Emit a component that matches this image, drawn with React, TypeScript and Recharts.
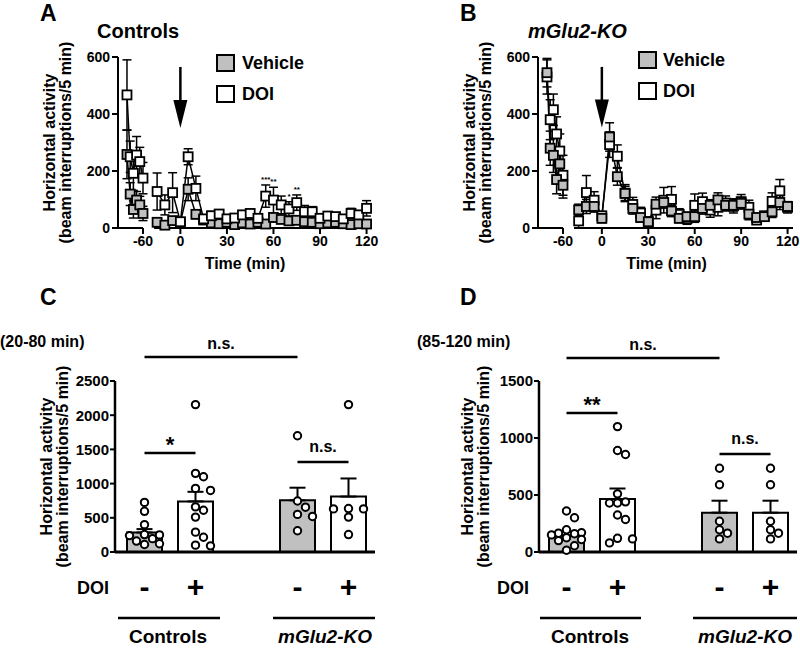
import React from 'react';
import {
  Bar,
  Cell,
  ComposedChart,
  ErrorBar,
  Line,
  ReferenceDot,
  ReferenceLine,
  Scatter,
  XAxis,
  YAxis,
} from 'recharts';

const FONT = '"Liberation Sans", Arial, Helvetica, sans-serif';
const GRAY = '#c0c0c0';

// ---- time course (A, B) ----
const habTimes = [-85, -80, -75, -70, -65, -60];
const postTimes = [-15, -10, -5, 0, 5, 10, 15, 20, 25, 30, 35, 40, 45, 50, 55, 60, 65, 70, 75, 80, 85, 90, 95, 100, 105, 110, 115, 120];
const timeTicks = [0, 30, 60, 90, 120];
const activityTicks = [0, 200, 400, 600];

// A: Controls
const ctrlVehHab = [258, 119, 65, 98, 81, 51];
const ctrlVehHabSem = [85, 40, 30, 30, 30, 25];
const ctrlDoiHab = [467, 250, 192, 256, 233, 175];
const ctrlDoiHabSem = [123, 55, 60, 65, 50, 55];
const ctrlVehPost = [20, 10, 26, 20, 136, 48, 28, 18, 15, 20, 12, 18, 14, 20, 14, 37, 30, 25, 27, 22, 20, 15, 18, 20, 15, 12, 15, 14];
const ctrlVehPostSem = [8, 6, 10, 10, 40, 15, 10, 8, 6, 8, 6, 8, 6, 8, 6, 15, 12, 10, 12, 10, 8, 6, 8, 8, 6, 6, 6, 6];
const ctrlDoiPost = [128, 81, 124, 22, 250, 139, 32, 43, 49, 32, 35, 46, 51, 34, 112, 98, 81, 67, 89, 57, 57, 34, 42, 40, 32, 51, 46, 69];
const ctrlDoiPostSem = [65, 35, 70, 12, 28, 43, 12, 15, 15, 12, 12, 15, 15, 12, 39, 45, 31, 25, 27, 22, 18, 12, 15, 12, 12, 18, 15, 27];
const sigTimes = [55, 60, 70, 75];
const sigMarks = ['***', '**', '*', '**'];

// B: mGlu2-KO
const koVehHab = [545, 280, 255, 170, 225, 150];
const koVehHabSem = [50, 60, 60, 50, 50, 45];
const koDoiHab = [530, 380, 415, 330, 270, 185];
const koDoiHabSem = [60, 70, 55, 60, 60, 70];
const koVehPost = [61, 73, 73, 31, 318, 178, 119, 66, 34, 19, 81, 87, 57, 31, 37, 37, 66, 77, 96, 77, 77, 84, 46, 34, 37, 54, 87, 73];
const koVehPostSem = [20, 25, 20, 15, 50, 30, 25, 20, 15, 10, 25, 20, 20, 15, 15, 20, 20, 20, 25, 20, 20, 20, 20, 15, 15, 20, 25, 15];
const koDoiPost = [22, 122, 95, 40, 291, 250, 120, 80, 50, 20, 60, 95, 98, 45, 30, 77, 90, 60, 70, 85, 75, 90, 70, 25, 40, 91, 128, 70];
const koDoiPostSem = [25, 60, 30, 15, 45, 40, 30, 25, 20, 10, 30, 45, 45, 20, 20, 40, 30, 25, 30, 25, 25, 25, 25, 15, 15, 30, 40, 20];

// ---- bar panels (C, D) ----
const barKeys = ['ctrl-', 'ctrl+', 'gap', 'ko-', 'ko+'];
const doiSigns = ['-', '+', '', '-', '+'];
const barFills = [GRAY, '#fff', 'none', GRAY, '#fff'];

// C: 20-80 min
const cMeans = [285, 740, null, 755, 810];
const cSems = [50, 140, null, 185, 265];
const cCtrlVeh = [725, 595, 400, 255, 250, 240, 195, 160, 120, 110];
const cCtrlDoi = [2155, 1150, 1100, 930, 900, 660, 610, 510, 290, 215, 100, 90];
const cKoVeh = [1700, 745, 655, 550, 520, 310];
const cKoDoi = [2155, 635, 630, 630, 510, 255];
const cTicks = [0, 500, 1000, 1500, 2000, 2500];

// D: 85-120 min
const dMeans = [145, 465, null, 345, 345];
const dSems = [35, 92, null, 105, 105];
const dCtrlVeh = [360, 300, 195, 170, 165, 160, 150, 125, 110, 100, 55, 15];
const dCtrlDoi = [1100, 890, 855, 510, 440, 430, 430, 325, 285, 120, 115, 80];
const dKoVeh = [735, 590, 270, 195, 165, 115];
const dKoDoi = [735, 590, 270, 195, 165, 115];
const dTicks = [0, 500, 1000, 1500];

const series = (times: number[], vals: number[], sems: number[]) =>
  times.map((t, i) => ({ t, v: vals[i], e: sems[i] }));

const axisLine = { stroke: '#000', strokeWidth: 2 };
const tickStyle = { fill: '#000', fontSize: 14, fontWeight: 'bold' };

const squareDot = (fill: string) => (p: any) => (
  <rect
    key={`sq-${p.index}`}
    x={p.cx - 4.5}
    y={p.cy - 4.5}
    width={9}
    height={9}
    fill={fill}
    stroke="#000"
    strokeWidth={1.8}
  />
);

function trace(id: string, data: any[], fill: string) {
  return (
    <Line
      key={id}
      name={id}
      data={data}
      dataKey="v"
      type="linear"
      stroke="#000"
      strokeWidth={1.5}
      dot={squareDot(fill)}
      activeDot={false}
      isAnimationActive={false}
    >
      <ErrorBar dataKey="e" width={4.5} stroke="#000" strokeWidth={1.5} direction="y" />
    </Line>
  );
}

function YTitle({ viewBox, o1, o2 }: any) {
  const ax = viewBox.x + viewBox.width;
  const cy = viewBox.y + viewBox.height / 2;
  return (
    <g fontSize={16} fontWeight="bold" fill="#000">
      <text transform={`translate(${ax - o1},${cy}) rotate(-90)`} textAnchor="middle">
        Horizontal activity
      </text>
      <text transform={`translate(${ax - o2},${cy}) rotate(-90)`} textAnchor="middle">
        (beam interruptions/5 min)
      </text>
    </g>
  );
}

function XTitle({ viewBox, text, dx }: any) {
  return (
    <text
      x={viewBox.x + viewBox.width / 2 + dx}
      y={viewBox.y + 41}
      textAnchor="middle"
      fontSize={16}
      fontWeight="bold"
      fill="#000"
    >
      {text}
    </text>
  );
}

const ArrowHead = (p: any) => (
  <path d={`M${p.cx},${p.cy} L${p.cx - 7},${p.cy - 28} L${p.cx + 7},${p.cy - 28} Z`} fill="#000" />
);

const SigMark = (p: any) => (
  <text x={p.cx} y={p.cy - 3} textAnchor="middle" fontSize={8} fontWeight="bold" fill="#000">
    {p.payload.s}
  </text>
);

function HabChart({ left, veh, vehSem, doi, doiSem, vehOnTop }: any) {
  const v = trace('Vehicle', series(habTimes, veh, vehSem), GRAY);
  const d = trace('DOI', series(habTimes, doi, doiSem), '#fff');
  return (
    <div style={{ position: 'absolute', left, top: 40 }}>
      <ComposedChart width={170} height={233} margin={{ top: 17, right: 27, bottom: 0, left: 0 }}>
        <XAxis
          type="number"
          dataKey="t"
          domain={[-99, -60]}
          ticks={[-60]}
          interval={0}
          height={45}
          axisLine={axisLine}
          tickLine={axisLine}
          tickSize={6}
          tick={tickStyle}
        />
        <YAxis
          type="number"
          domain={[0, 600]}
          ticks={activityTicks}
          width={118}
          axisLine={axisLine}
          tickLine={axisLine}
          tickSize={6}
          tick={tickStyle}
          label={<YTitle o1={63} o2={47} />}
        />
        {vehOnTop ? [d, v] : [v, d]}
      </ComposedChart>
    </div>
  );
}

function PostChart({ left, width, domain, veh, vehSem, doi, doiSem, vehOnTop, sig, titleDx }: any) {
  const v = trace('Vehicle', series(postTimes, veh, vehSem), GRAY);
  const d = trace('DOI', series(postTimes, doi, doiSem), '#fff');
  return (
    <div style={{ position: 'absolute', left, top: 40 }}>
      <ComposedChart width={width + 16} height={233} margin={{ top: 17, right: 20, bottom: 0, left: 4 }}>
        <XAxis
          type="number"
          dataKey="t"
          domain={domain}
          ticks={timeTicks}
          interval={0}
          height={45}
          axisLine={axisLine}
          tickLine={axisLine}
          tickSize={6}
          tick={tickStyle}
          label={<XTitle text="Time (min)" dx={titleDx} />}
        />
        <YAxis hide type="number" domain={[0, 600]} />
        <ReferenceLine
          segment={[
            { x: 0, y: 565 },
            { x: 0, y: 440 },
          ]}
          stroke="#000"
          strokeWidth={2.5}
        />
        <ReferenceDot x={0} y={351} r={1} shape={ArrowHead} />
        {vehOnTop ? [d, v] : [v, d]}
        {sig ? (
          <Scatter data={sig} dataKey="y" shape={SigMark} isAnimationActive={false} />
        ) : null}
      </ComposedChart>
    </div>
  );
}

// compact beeswarm: dots stay inside the bar, spreading sideways when they collide
function swarm(groups: number[][], yMax: number, band: number) {
  const pyPerUnit = 171 / yMax;
  const cands = [0, 8, -8, 15, -15, 4, -4, 11, -11];
  const out: { x: number; y: number }[] = [];
  groups.forEach((vals, gi) => {
    const placed: { x: number; y: number }[] = [];
    [...vals]
      .sort((a, b) => b - a)
      .forEach((val) => {
        const py = val * pyPerUnit;
        let best = 0;
        let bestD = -1;
        for (const off of cands) {
          const dmin = placed.reduce((m, p) => Math.min(m, Math.hypot(p.x - off, p.y - py)), Infinity);
          if (dmin >= 8.5) {
            best = off;
            break;
          }
          if (dmin > bestD) {
            bestD = dmin;
            best = off;
          }
        }
        placed.push({ x: best, y: py });
        out.push({ x: gi + 1 + best / band, y: val });
      });
  });
  return out;
}

const DoiTick = ({ x, y, payload }: any) => (
  <text x={x} y={y + 45} textAnchor="middle" fontSize={30} fontWeight="bold" fill="#000">
    {doiSigns[barKeys.indexOf(payload.value)]}
  </text>
);

function BracketText({ viewBox, text, size, gap }: any) {
  return (
    <text
      x={viewBox.x + viewBox.width / 2}
      y={viewBox.y - gap}
      textAnchor="middle"
      fontSize={size}
      fontWeight="bold"
      fill="#000"
    >
      {text}
    </text>
  );
}

function BarPanel({ left, yWidth, right, pad, means, sems, dots, yMax, yTicks, brackets, o1, o2 }: any) {
  const rows = barKeys.map((k, i) => ({
    k,
    m: means[i],
    e: sems[i] == null ? null : [0, sems[i]],
  }));
  const band = (400 - yWidth - right - pad.left - pad.right) / 5;
  const pts = swarm(dots, yMax, band);
  return (
    <div style={{ position: 'absolute', left, top: 300 }}>
      <ComposedChart width={400} height={316} data={rows} margin={{ top: 81, right, bottom: 0, left: 0 }}>
        <XAxis
          dataKey="k"
          type="category"
          height={64}
          padding={pad}
          interval={0}
          axisLine={{ stroke: '#000', strokeWidth: 3 }}
          tickLine={false}
          tickSize={0}
          tickMargin={0}
          tick={<DoiTick />}
        />
        <XAxis xAxisId="num" type="number" dataKey="x" domain={[0.5, 5.5]} padding={pad} hide />
        <YAxis
          type="number"
          domain={[0, yMax]}
          ticks={yTicks}
          width={yWidth}
          axisLine={{ stroke: '#000', strokeWidth: 2.5 }}
          tickLine={{ stroke: '#000', strokeWidth: 2 }}
          tickSize={5}
          tickMargin={1}
          tick={{ fill: '#000', fontSize: 15, fontWeight: 'bold' }}
          label={<YTitle o1={o1} o2={o2} />}
        />
        <Bar dataKey="m" barSize={35} stroke="#000" strokeWidth={2} isAnimationActive={false}>
          {rows.map((r, i) => (
            <Cell key={r.k} fill={barFills[i]} />
          ))}
          <ErrorBar dataKey="e" width={8} stroke="#000" strokeWidth={2} direction="y" />
        </Bar>
        <Scatter
          xAxisId="num"
          data={pts}
          dataKey="y"
          isAnimationActive={false}
          shape={(p: any) => (
            <circle cx={p.cx} cy={p.cy} r={3.7} fill="#fff" stroke="#000" strokeWidth={2} />
          )}
        />
        {brackets.map((b: any, i: number) => (
          <ReferenceLine
            key={i}
            segment={[
              { x: b.from, y: b.y },
              { x: b.to, y: b.y },
            ]}
            stroke="#000"
            strokeWidth={2.5}
            ifOverflow="visible"
            label={<BracketText text={b.text} size={b.size} gap={b.gap} />}
          />
        ))}
      </ComposedChart>
    </div>
  );
}

function Overlay() {
  const sq = { width: 17, height: 16, stroke: '#000', strokeWidth: 2 };
  return (
    <svg
      width={800}
      height={648}
      style={{ position: 'absolute', left: 0, top: 0, pointerEvents: 'none' }}
      fontWeight="bold"
      fill="#000"
    >
      <text x={40} y={21} fontSize={23}>A</text>
      <text x={97} y={38} fontSize={20}>Controls</text>
      <text x={460} y={21} fontSize={23}>B</text>
      <text x={528} y={38} fontSize={20} fontStyle="italic">mGlu2-KO</text>

      <rect x={217} y={55} fill={GRAY} {...sq} />
      <text x={242} y={69} fontSize={18}>Vehicle</text>
      <rect x={217} y={86} fill="#fff" {...sq} />
      <text x={242} y={100} fontSize={18}>DOI</text>
      <rect x={639} y={52} fill={GRAY} {...sq} />
      <text x={663} y={66} fontSize={18}>Vehicle</text>
      <rect x={639} y={83} fill="#fff" {...sq} />
      <text x={663} y={97} fontSize={18}>DOI</text>

      <text x={40} y={305} fontSize={23}>C</text>
      <text x={0} y={347} fontSize={16}>(20-80 min)</text>
      <text x={460} y={305} fontSize={23}>D</text>
      <text x={417} y={347} fontSize={16}>(85-120 min)</text>

      <text x={77} y={594} fontSize={18}>DOI</text>
      <text x={497} y={594} fontSize={18}>DOI</text>

      <g stroke="#000" strokeWidth={2.5}>
        <line x1={118} x2={220} y1={618} y2={618} />
        <line x1={273} x2={375} y1={618} y2={618} />
        <line x1={540} x2={641} y1={618} y2={618} />
        <line x1={693} x2={797} y1={618} y2={618} />
      </g>
      <text x={168} y={643} fontSize={19} textAnchor="middle">Controls</text>
      <text x={325} y={643} fontSize={19} textAnchor="middle" fontStyle="italic">mGlu2-KO</text>
      <text x={590} y={643} fontSize={19} textAnchor="middle">Controls</text>
      <text x={745} y={643} fontSize={19} textAnchor="middle" fontStyle="italic">mGlu2-KO</text>
    </svg>
  );
}

export default function App() {
  const sigData = sigTimes.map((t, i) => {
    const j = postTimes.indexOf(t);
    return { t, y: ctrlDoiPost[j] + ctrlDoiPostSem[j], s: sigMarks[i] };
  });

  return (
    <div
      style={{
        position: 'absolute',
        left: 0,
        top: 0,
        width: 800,
        height: 648,
        background: '#fff',
        fontFamily: FONT,
        overflow: 'hidden',
      }}
    >
      <HabChart left={0} veh={ctrlVehHab} vehSem={ctrlVehHabSem} doi={ctrlDoiHab} doiSem={ctrlDoiHabSem} />
      <PostChart
        left={150}
        width={226}
        domain={[-17, 123.5]}
        veh={ctrlVehPost}
        vehSem={ctrlVehPostSem}
        doi={ctrlDoiPost}
        doiSem={ctrlDoiPostSem}
        sig={sigData}
        titleDx={-18}
      />
      <HabChart
        left={420}
        veh={koVehHab}
        vehSem={koVehHabSem}
        doi={koDoiHab}
        doiSem={koDoiHabSem}
        vehOnTop
      />
      <PostChart
        left={570}
        width={227}
        domain={[-18, 123.5]}
        veh={koVehPost}
        vehSem={koVehPostSem}
        doi={koDoiPost}
        doiSem={koDoiPostSem}
        vehOnTop
        titleDx={-17}
      />

      <BarPanel
        left={0}
        yWidth={115}
        right={25}
        pad={{ left: 4, right: 1 }}
        means={cMeans}
        sems={cSems}
        dots={[cCtrlVeh, cCtrlDoi, [], cKoVeh, cKoDoi]}
        yMax={2500}
        yTicks={cTicks}
        o1={63}
        o2={47}
        brackets={[
          { from: 'ctrl-', to: 'ko-', y: 2851, text: 'n.s.', size: 16, gap: 8 },
          { from: 'ctrl-', to: 'ctrl+', y: 1447, text: '*', size: 22, gap: 1 },
          { from: 'ko-', to: 'ko+', y: 1316, text: 'n.s.', size: 16, gap: 10 },
        ]}
      />
      <BarPanel
        left={400}
        yWidth={139}
        right={3}
        pad={{ left: 2, right: 1 }}
        means={dMeans}
        sems={dSems}
        dots={[dCtrlVeh, dCtrlDoi, [], dKoVeh, dKoDoi]}
        yMax={1500}
        yTicks={dTicks}
        o1={66}
        o2={50}
        brackets={[
          { from: 'ctrl-', to: 'ko-', y: 1702, text: 'n.s.', size: 16, gap: 8 },
          { from: 'ctrl-', to: 'ctrl+', y: 1219, text: '**', size: 22, gap: 1 },
          { from: 'ko-', to: 'ko+', y: 860, text: 'n.s.', size: 16, gap: 10 },
        ]}
      />
      <Overlay />
    </div>
  );
}
